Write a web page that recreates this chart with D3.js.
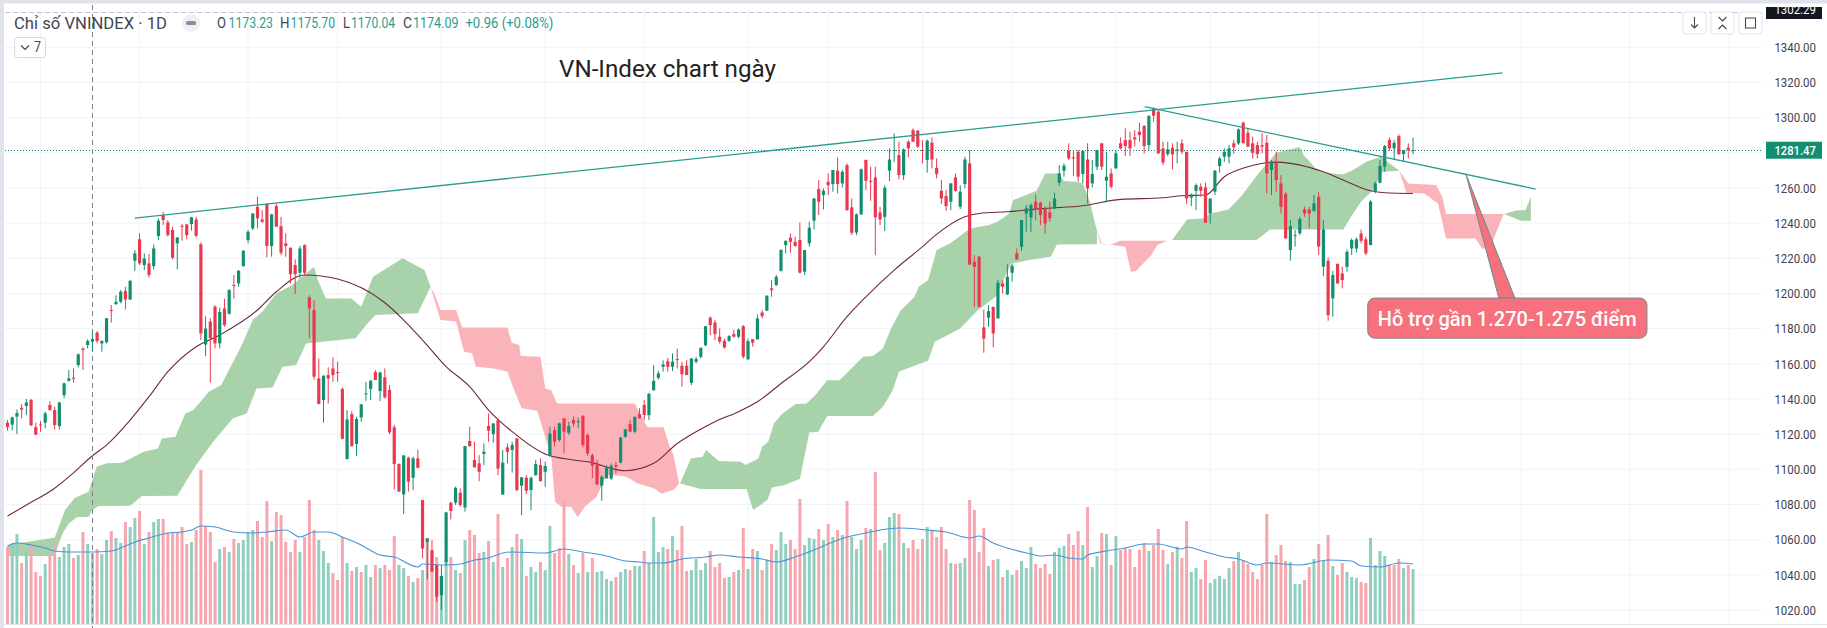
<!DOCTYPE html>
<html><head><meta charset="utf-8">
<script src="https://cdnjs.cloudflare.com/ajax/libs/d3/7.8.5/d3.min.js"></script>
<style>html,body{margin:0;padding:0;background:#fff;overflow:hidden}text{font-family:Roboto,Arial,sans-serif}</style>
</head><body><svg id="c" width="1827" height="628"></svg>
<script>
const openP=[
1126.5,1125.4,1130,1135,1136,1139.5,1124,1125.5,1126.5,1136.6,
1133.7,1124.6,1142.2,1150.4,1152.1,1159.3,1168.6,1170.7,1172.6,1177.7,
1171.6,1172.2,1190.6,1194,1195.3,1201.4,1196.6,1218.6,1230.8,1216.2,
1217.1,1215.6,1232.7,1244.6,1240.4,1236.1,1228.5,1238.5,1239.3,1239.5,
1242.1,1228,1171,1184,1192.5,1171.6,1191.5,1188.5,1204.8,1205.7,
1215.6,1230.4,1237,1249.3,1242.1,1250.8,1227,1249.7,1238.3,1228.5,
1226,1216.2,1211.8,1227.5,1197.8,1190.6,1151.7,1139.4,1153.6,1157.4,
1155.3,1145.7,1105.8,1131.4,1114.4,1129.5,1142.6,1145.7,1155.3,1144.5,
1152.3,1145.1,1123.9,1103,1085.7,1106.6,1095.2,1106.2,1082.5,1058.8,
1054,1045.5,1028.5,1047.4,1081,1081,1086.7,1078.3,1116.1,1105.3,
1103.4,1108.7,1124.6,1120,1128,1085.7,1112.5,1111,1117.6,1090.7,
1095.2,1088.2,1096.7,1102.4,1098.6,1107.7,1122.3,1116.6,1129,1120.8,
1128,1126.9,1130.3,1119.5,1108.1,1103.4,1090.7,1094.8,1094.8,1102.4,
1103.8,1118.5,1125.7,1121.4,1131.4,1136.6,1130.8,1145,1152,1158.3,
1161.5,1158.3,1162.7,1158.9,1158.9,1149.2,1161.2,1164,1170.6,1186.2,
1183.5,1175.4,1173.1,1173.1,1176.9,1175.4,1181.4,1162.5,1174,1173.9,
1189.2,1190.2,1202.9,1204.8,1212.9,1227.5,1231.7,1229.4,1230.4,1212.4,
1228.5,1241.4,1259.4,1256,1263.5,1262.2,1269.8,1262.6,1273,1249,
1234.7,1245,1275.9,1264.1,1266,1246.1,1243.6,1269.8,1281,1278.7,
1267.3,1286.3,1292.9,1292.6,1281.6,1275.9,1285.7,1271.5,1258.4,1255.4,
1252.2,1266,1249.3,1262.2,1274,1218,1220.9,1180.7,1186.2,1192.4,
1185.8,1205.7,1199.5,1211.8,1222.8,1226.6,1245.5,1243.3,1252.2,1251.6,
1248.4,1246.1,1248.4,1263,1269.8,1281.2,1277.4,1280.6,1267.9,1276.2,
1262.6,1272.1,1285.4,1264.1,1268.3,1271.1,1285.4,1287.2,1287.2,1288.8,
1292,1295.2,1284.4,1305.3,1303.4,1282.5,1279.3,1282.9,1281.2,1285.4,
1280.6,1254.6,1258.4,1260.7,1260.3,1245.5,1257.9,1272.5,1277.8,1277.8,
1285.4,1285.4,1297.1,1291.4,1285.4,1284.4,1284.4,1285.7,1270.2,1274.4,
1262.6,1256.6,1224.7,1232.7,1234.2,1247.8,1247.8,1247,1255,1215.2,
1218.6,1197.2,1216.8,1211.4,1215.2,1225.6,1225.6,1234.2,1230.8,1227.5,
1257.9,1263,1272.1,1287.3,1282.5,1289.5,1279.3,1282.9,1281];
const highP=[
1128,1130,1134,1137,1140,1140,1126.5,1127.5,1132.8,1138.8,
1135.6,1138.4,1149.3,1156.5,1157.4,1165.9,1169.4,1173.9,1178.3,1178.7,
1173.5,1186,1193.4,1199,1201.9,1203.8,1207.6,1224.7,1234.2,1222.8,
1222.4,1227.9,1242.7,1246.5,1241.8,1238,1231.9,1239.5,1239.3,1243.6,
1243.6,1229,1187,1186,1193.4,1192,1197,1202.5,1210.5,1213.3,
1224.7,1236.1,1245.5,1255,1247.4,1251.2,1245.2,1251.2,1243.6,1234.2,
1226.2,1219.4,1227,1227.9,1199,1196.2,1163,1153.6,1158,1163.7,
1161.2,1146.6,1133.7,1133.1,1129.9,1137.1,1149.8,1150.8,1156.5,1155.5,
1157.4,1147.9,1125.2,1103.4,1108.1,1107.2,1107.2,1111.3,1082.5,1060.7,
1059.8,1045.5,1045.5,1075.9,1081.6,1090.1,1089.2,1113.2,1124.2,1115.7,
1108.1,1114.8,1131.8,1126.1,1129,1111,1114.8,1115.7,1117.6,1095.8,
1096.7,1095.8,1105.3,1106.2,1104.3,1124.2,1124.2,1126.5,1129,1127.1,
1130,1129.5,1130.9,1120.4,1109,1105.3,1096.7,1102.4,1103.4,1104.3,
1118.5,1123,1128,1129.9,1134.7,1139.4,1143.5,1159.3,1156,1162,
1163.4,1165.9,1168.7,1161.2,1162.1,1163.4,1164,1169.3,1181.4,1187.1,
1184.9,1180.1,1174.4,1176.3,1179.5,1180.1,1182,1174.4,1174.1,1188,
1190.5,1199,1207.6,1210.5,1225.2,1230.4,1234.2,1232.3,1240.4,1224.7,
1240.8,1254.4,1264.5,1259.8,1268.3,1270.2,1277.4,1270.2,1274,1254,
1245.5,1271.1,1276.2,1272.1,1272.1,1249.3,1261.6,1282.5,1291,1286.3,
1282.5,1287.2,1293.9,1292.9,1287.2,1287.6,1288.8,1276.8,1264.5,1258.8,
1262.6,1268.3,1261.6,1277.8,1281.6,1221.8,1221.3,1190.9,1193.4,1192.4,
1207.6,1207.6,1216.5,1217,1225.6,1241.7,1250.3,1251.2,1256.3,1252.2,
1249.3,1252.2,1257.3,1273,1274,1285.4,1281.6,1281.6,1281.6,1285.4,
1275.9,1281.6,1285.4,1280.6,1271.1,1281.6,1288.8,1293.9,1292,1292.9,
1297.1,1295.8,1301.5,1305.8,1304.3,1286.3,1286.3,1285.4,1286.3,1287.6,
1280.6,1256.9,1262.6,1262.6,1263,1254,1270.2,1277.8,1282.5,1284.4,
1287.2,1293.9,1297.7,1293.9,1289.2,1286.3,1291,1290.1,1275.9,1280.6,
1267.4,1257.9,1241.7,1236.1,1243.6,1249.3,1249.3,1256,1257.9,1241.7,
1220.5,1212.9,1217.1,1215.2,1225,1231.3,1231.9,1236.4,1232.3,1253.1,
1263.6,1275.9,1284.4,1288.8,1287.3,1290.5,1281.6,1285.4,1288.6];
const lowP=[
1122,1122,1120,1129,1131,1124.6,1119.5,1121.4,1123.3,1133.3,
1122.7,1122.7,1140.4,1149.8,1149.3,1158,1156.5,1168.8,1166.9,1171.6,
1166.9,1171.6,1183.4,1193.4,1194.4,1190.9,1196.2,1212.9,1216.2,1213.3,
1209.1,1213.7,1230.4,1238.9,1232.3,1219.4,1213.7,1230,1230.8,1235.7,
1231.9,1173.5,1164.4,1149.3,1168.8,1168.8,1181,1188,1197.2,1203.8,
1215.2,1228.5,1236.1,1237,1240.2,1220.5,1220.9,1238,1221.8,1220.9,
1205.7,1199.7,1208.6,1210.5,1174.5,1151,1137.1,1126.5,1137.5,1149.8,
1149.8,1117,1105.8,1112.9,1107.7,1127.1,1139,1139.4,1150.8,1138.8,
1140.3,1120,1088.6,1087.3,1074.6,1087.3,1088.2,1100.5,1049.3,1037.4,
1041.8,1024.7,1020,1045.5,1071.5,1079.7,1078.7,1075.9,1112.9,1101.1,
1093.3,1102.4,1115.7,1115.1,1096.7,1085.4,1103.4,1098.1,1087.6,1074,
1085.9,1076.8,1096.3,1093,1090.1,1107.2,1112.9,1115.7,1109.1,1119.5,
1124,1123.3,1112.5,1107.6,1094.9,1091,1082.1,1094.8,1093.9,1097.7,
1103.4,1118,1121,1120.4,1128.9,1128,1128,1144.7,1151,1155.5,
1155.5,1156,1157.4,1147,1153.6,1147.9,1160.2,1163,1170,1176.3,
1173.5,1171.6,1168.7,1172.5,1175,1174.4,1163,1162.5,1169.7,1173.9,
1185.8,1190.2,1198.1,1204.2,1212.4,1222.8,1223.2,1226.6,1211.4,1210.5,
1226.6,1236.4,1244.6,1247.8,1256,1257.9,1256.9,1260.3,1246.9,1233.2,
1233.2,1244.6,1258.8,1252.7,1221.8,1238.9,1235.5,1263.9,1274.9,1264.9,
1264.5,1277.4,1286.3,1282.9,1274,1268.7,1271.1,1265.4,1250.8,1247,
1247.4,1257.9,1248,1259.8,1216.1,1192.1,1192.1,1166.3,1181,1169.3,
1185.8,1200,1199.1,1206.7,1219,1224.3,1235.1,1235.1,1241.7,1238.9,
1233.8,1240.8,1248,1261.1,1266.4,1275.9,1266.8,1263.5,1262.6,1251.2,
1260.3,1270.2,1270.2,1252.2,1259.8,1271.1,1281.9,1278.1,1278.1,1283.5,
1286.3,1279.7,1281.6,1297.7,1279.3,1273,1278.1,1270.6,1274,1279.3,
1250.8,1249.7,1247.4,1255,1240.2,1239.8,1256,1268.7,1274.9,1274,
1279.5,1284.4,1285.4,1283.5,1276.8,1276.8,1279.7,1256.9,1256,1257.9,
1245.6,1231.3,1218.6,1226.6,1233.2,1243.6,1237,1246.5,1221.9,1209.9,
1184.5,1186.8,1205.7,1202.9,1212.4,1221.9,1223.2,1228.5,1221.8,1227.5,
1257,1262.6,1269.2,1281.2,1275.9,1278.7,1274.9,1276.8,1279.1];
const closeP=[
1124,1129.5,1132,1134,1138,1125,1119.7,1125,1131.8,1133.7,
1125.2,1138,1148.9,1151.7,1151.5,1165.4,1167.9,1173,1174.1,1173,
1173,1185.9,1190,1195.3,1201,1196.6,1207.2,1222.8,1217.1,1219.9,
1210.5,1225.6,1241.4,1241.8,1233.2,1220.3,1231.9,1238,1233.2,1243.3,
1232.8,1177.3,1180,1174.5,1171.6,1189.5,1182,1201.9,1204.2,1212.9,
1224.3,1235.1,1245.5,1242.7,1240.8,1227,1245,1238,1223.2,1227,
1211,1211,1225.6,1211.8,1191.5,1152.7,1137.1,1153.2,1151.7,1153.6,
1155,1117.4,1128.4,1113.2,1128.6,1136.9,1143.2,1150.4,1150.8,1155.1,
1140.9,1121,1103,1087.3,1107.9,1093,1106.2,1100.9,1055,1060.7,
1041.8,1027.5,1039.3,1075.5,1076.3,1089.5,1079.7,1113.2,1113.2,1101.1,
1098.6,1110,1122,1126.1,1100.5,1103.8,1110,1113.8,1088.2,1095.4,
1087.8,1095.2,1103,1093.3,1101.9,1120.4,1115.7,1126.1,1121.4,1124.6,
1126,1127.4,1113.8,1109,1102,1091.4,1095.8,1101.1,1102,1101.5,
1118,1122.7,1121.4,1129.9,1129,1130.9,1143,1150.3,1154.5,1159.6,
1158.3,1161.2,1162.1,1154.1,1153.6,1163,1162.7,1169.1,1181.4,1182,
1176.9,1172.7,1169.3,1175.8,1175.4,1179.5,1164,1172.9,1172,1185.8,
1187.1,1198.7,1201.9,1209.5,1224.7,1229.8,1229.4,1227,1211.8,1224.7,
1237.4,1254,1252.2,1258.4,1261.6,1270.2,1262.2,1269.2,1247.4,1234.5,
1245,1270.6,1264.1,1263.5,1243.3,1242.1,1260.1,1276.2,1281.6,1267.3,
1281.9,1282.5,1286.3,1283.5,1281.2,1286.9,1276.2,1267.9,1254,1249.7,
1262.6,1258.4,1257.9,1276.2,1216.5,1215.2,1192.4,1174.4,1190,1177.3,
1206.1,1203.8,1209.5,1215.8,1219.4,1241.7,1248.4,1250.3,1247.8,1244.6,
1239.8,1242.7,1254,1268.3,1272.6,1276.8,1276.8,1266.4,1281,1259.8,
1267.9,1281.6,1272.1,1266.4,1260.7,1279.7,1282.5,1283.8,1282.5,1287.6,
1290.1,1283.8,1300.9,1301.1,1279.7,1274.4,1281.9,1279.1,1281.9,1280.6,
1254,1256.3,1261.6,1258.4,1240.2,1254,1269.8,1276.8,1280.6,1282.5,
1283.1,1293.3,1285.4,1283.5,1280,1279.3,1283.5,1268.3,1274.4,1264.5,
1249.3,1231.3,1238.3,1233.2,1242.3,1245.5,1245.5,1251.2,1226.6,1236.4,
1187.7,1210.5,1205.7,1207.6,1223.7,1230.4,1230.8,1230,1222.8,1252.2,
1262.6,1272.5,1283.8,1282.5,1285.7,1279.3,1281.6,1281.6,1281.47];
const volumes=[
77,81,90,61,73,77,52,48,60,69,82,67,77,80,66,69,92,80,71,75,
70,84,93,86,81,102,97,106,113,80,92,102,105,105,91,92,92,97,80,82,
94,154,98,92,62,75,77,72,85,81,84,92,94,103,87,123,83,112,109,82,
72,84,72,87,124,94,84,73,61,51,44,87,61,53,57,52,59,47,59,56,
59,54,88,59,56,48,42,46,54,86,56,67,48,64,67,54,51,84,94,89,
71,72,83,62,110,57,66,77,90,85,48,57,52,62,54,98,71,76,122,70,
59,51,71,52,66,52,53,45,
43,47,52,55,54,58,58,73,61,107,72,77,75,88,74,98,53,54,65,54,
61,73,57,61,46,47,52,54,96,55,75,73,54,64,80,74,92,80,84,75,
125,79,86,85,95,84,100,87,94,89,123,87,75,84,96,95,152,74,81,107,
111,110,81,76,84,75,85,97,93,87,97,75,61,60,61,66,124,114,72,96,
58,64,65,47,54,49,54,63,56,77,60,56,60,50,72,76,78,90,79,93,
79,117,57,68,91,90,59,88,74,76,75,57,74,81,73,79,95,74,60,72,
77,66,103,52,56,45,64,41,45,48,45,56,
63,72,64,60,52,45,59,110,62,69,79,63,62,40,40,44,57,65,80,64,
89,58,49,61,52,47,46,42,41,86,59,73,68,59,59,65,56,59,55];
const volumeDirs=("rggrgrrrgr"+"rgggrgrggr"+"ggrggrggrg"+"rggrrrrrrg"+"rrrrrgrgrg"+"gggrrrgrrr"+"rrgrrrgggr"+"rrgrgrggrg"+"rrrggrgrgr"+"rrggrgrgrr"+"rgrgrgrgrg"+"rggrggrrrg"+"rgrgrggg"
+"grggrggrgg"+"ggrgrrrggg"+"grrrrgrgrg"+"rgrgrgggrr"+"rgggrgrgrg"+"rgggrgrrgg"+"grgrrrrgrr"+"rrgrggrrrr"+"grgrggrggg"+"rrrrgggrrr"+"grggrgrgrr"+"rrrrgrrrgr"+"grrggrrggg"+"gg"
+"rgrrrrrrgr"+"rrgggrrgrg"+"rgrrgggrrg"+"gggrrrgrg"
).split("");
const volumeMaIdx=[0,2,5,8,10,13,18,22,24,27,30,34,37,39,41,44,48,52,55,59,62,65,68,71,75,79,82,87,88,93,96,99,102,105,107,114,118,122,127,131,134,136,139,143,148,151,155,160,163,167,171,175,178,182,184,189,195,199,204,206,209,217,219,222,225,228,229,233,237,241,244,249,250,254,258,261,265,267,274,280,285,287,291,295,298];
const volumeMaVal=[78,81,79,76,73,72,72,73,76,82,86,91,92,94,98,97,92,91,92,94,87,92,92,87,79,69,67,57,60,59,60,64,66,71,72,71,75,72,68,63,62,61,61,65,67,69,67,65,62,67,74,82,87,91,93,96,94,92,86,88,81,70,68,69,66,65,69,73,76,80,80,75,77,72,67,65,59,61,59,64,63,58,57,61,60];
const priceMaIdx=[0,4,10,14,18,21,26,30,34,40,45,53,57,63,70,80,84,88,93,98,102,107,114,120,124,128,131,137,142,146,150,155,159,164,170,173,178,182,188,194,197,203,206,212,220,228,236,245,249,254,258,263,269,272,279,284,289,292,298];
const priceMaVal=[1073.4,1079.7,1089.2,1098,1107.7,1113.8,1128,1141.3,1155.5,1169.7,1176.4,1190.6,1201,1210.5,1208.2,1194.7,1184.9,1173.5,1158.4,1147,1133.7,1121.4,1108.7,1105.3,1103.8,1100.5,1099.2,1103.4,1114.7,1121.4,1127.1,1132.8,1138.4,1148.8,1161.2,1169.7,1186.8,1198.1,1213.3,1226.6,1233.6,1243.6,1245.5,1246.5,1248.4,1249.9,1253.5,1254.4,1255.6,1256,1266.4,1272.1,1274.7,1274,1269.2,1263.6,1258.4,1257.3,1256.9];
const cloudGreenA=[[0,1056.9],[3.4,1058.4],[6.7,1059.8],[10,1061.1],[12.2,1076.8],[14.2,1083.5],[17.2,1087.3],[18.9,1101.5],[21,1103.4],[24.3,1103.8],[28.9,1110],[31.9,1111.9],[32.7,1117.6],[35.6,1118.5],[37.7,1131.8],[39.4,1133.7],[42.7,1144.1],[45.3,1147.9],[49.5,1169.7],[52,1184.9],[54,1189.6],[57,1200],[60.4,1204.8],[65,1215.2],[65.8,1207.6],[67.5,1197.2],[72.9,1197.2],[75,1192.5],[77.5,1209.5],[83.8,1220],[88.4,1213.3],[89.7,1203.8],
[87,1188.7],[78,1187.8],[76.3,1183],[73.8,1174.5],[63.3,1171.6],[61.2,1159.3],[58.3,1158.4],[56.2,1146.6],[52.8,1146],[50.7,1131.8],[47.8,1129],[43.6,1115.7],[40,1102.4],[36,1085],[28.5,1084.8],[26,1079.3],[19.3,1079.1],[18,1076.8],[17.2,1073],[14.7,1072.7],[13,1069.2],[11.7,1063.6],[10.9,1057.9],[10,1050.7],[0,1050.7]];
const cloudRedA=[[88.8,1207.6],[90.5,1200],[91.8,1190.6],[95.1,1190.6],[96.4,1180.7],[106,1180.7],[106.9,1172],[108.5,1170.7],[108.8,1164.4],[113,1164],[114,1146],[115.3,1145],[116.5,1137.5],[133,1137.5],[135.7,1123.9],[139.1,1123.9],[140.4,1112.9],[141.2,1108.1],[142.4,1092],
[141.2,1088.2],[138.7,1086.3],[137,1089.2],[133.6,1092],[131.5,1095.4],[130,1096.4],[127,1096.7],[124.9,1084.4],[122.4,1078.7],[120.9,1072.7],[119.5,1078.7],[117.4,1078.7],[116.1,1081.6],[115.3,1107.2],[112.3,1133.3],[109,1134.7],[107.3,1146],[106,1155.5],[103.1,1157.4],[99.3,1158.4],[98.5,1166],[96.8,1166.9],[95.1,1184],[91.8,1184.9],[89.7,1203.8]];
const cloudGreenB=[[142.6,1092],[144.9,1106.2],[147.4,1107.2],[148.1,1111],[150.8,1104.7],[155.4,1104.3],[156.5,1102.4],[159.2,1106.2],[160,1112.9],[161.3,1115.7],[162.5,1126.1],[164.2,1131.4],[167.1,1137.1],[169.4,1137.5],[171.3,1142.2],[173.8,1150.7],[176.4,1150.7],[181.4,1164],[183.5,1164.4],[185.6,1168.7],[187.3,1180],[189.4,1190.5],[192.3,1198],[193.2,1203.8],[195.2,1207.6],[197,1224.7],[199.9,1228.5],[203.6,1236],[204.9,1237.4],[208.2,1239],[209.9,1240.8],[212.4,1245.5],[213.2,1253.1],[218.2,1258.4],[220,1268.3],[222.9,1268.3],[224,1264],[226.6,1263.5],[228,1262.6],[229.6,1251.2],[230.6,1239.5],[231,1236],
[231,1228],[222.5,1227.9],[221.2,1220.9],[216.6,1219],[212.8,1217],[209.5,1198.1],[205.7,1190.5],[201.9,1180],[196.6,1172.5],[195.2,1161.7],[192.7,1159.3],[189,1155.5],[187.7,1145],[185.6,1135.6],[183.5,1130.3],[173.8,1130.3],[171.9,1121.4],[170,1121],[168,1094.5],[164.6,1091],[162.1,1089.7],[161.1,1082.5],[158.1,1076.8],[156.7,1088.8],[147,1088.8]];
const cloudRedB=[[231,1236],[232.1,1228],[234.2,1228],[235.9,1230],[245.9,1230],[243.8,1227.5],[242.5,1221.8],[239.2,1212.7],[238.2,1212.3],[237,1226.6],[231.7,1228.5]];
const cloudGreenC=[[246.9,1230.4],[250.1,1242.1],[253.4,1242.7],[255.1,1245.5],[258.9,1247.8],[261.8,1256],[265.2,1268.3],[269,1280],[274,1283.3],[274.8,1278.7],[277.4,1271.1],[279.4,1268.7],[283.2,1267.7],[285.3,1270.2],[288.2,1275],[291.2,1277.8],[295.1,1269.8],
[291.6,1269.2],[289.5,1258.8],[287,1252.2],[285.3,1245.5],[283.2,1236.4],[267.7,1236.4],[264.8,1230.4]];
const cloudRedC=[[295.1,1269.8],[297,1262.6],[302.9,1261.7],[304.2,1255],[305,1245.2],[317.2,1245.2],[314.3,1225.6],[312.6,1225.6],[311.3,1231.3],[305,1231.3],[303.3,1251.2],[300.4,1256.9],[296.6,1257.3]];
const cloudGreenD=[[317.3,1245.2],[320.1,1247.4],[321.8,1247.4],[323,1255],[323,1241.4],[320.9,1241.4]];
const trendLineA=[[27,1242.9],[317,1325.4]];
const trendLineB=[[241.1,1306.2],[324,1259.4]];
const calloutTail=[[309.2,1268],[316.2,1197.4],[319.6,1197.4]];
const calloutBox=[[288.4,1197.4],[347.6,1174.6]];
const calloutLabel="Hỗ trợ gần 1.270-1.275 điểm";
const priceTicks=[1020,1040,1060,1080,1100,1120,1140,1160,1180,1200,1220,1240,1260,1300,1320,1340];
const gridBars=[7,28,51,70,92,114,135,157,174,194,213,235,255,278,300,321,344,365];
const gridPrices=[1020,1040,1060,1080,1100,1120,1140,1160,1180,1200,1220,1240,1260,1280,1300,1320,1340];
const lastPrice=1281.47, crossBar=18, topPrice="1302.29";

const svg=d3.select("#c");
const x=d3.scaleLinear().domain([0,298]).range([7.5,1413]);
const y=d3.scaleLinear().domain([1020,1340]).range([610,47.3]);
const yv=d3.scaleLinear().domain([0,160]).range([624,464]);
const PAL={up:"#128f71",dn:"#e9384f",vu:"#90cfc0",vd:"#f6a6ae",cg:"#a8d2aa",cr:"#fbb3ba",ma:"#6e2a39",vma:"#4a94d8",tl:"#2a9d8f",grid:"#f0f3fa"};
const right=1762;

svg.append("rect").attr("width",1827).attr("height",628).attr("fill","#fff");
svg.append("g").selectAll("line").data(gridPrices).join("line").attr("x1",5).attr("x2",right).attr("y1",d=>y(d)).attr("y2",d=>y(d)).attr("stroke",PAL.grid);
svg.append("g").selectAll("line").data(gridBars).join("line").attr("x1",d=>x(d)).attr("x2",d=>x(d)).attr("y1",13).attr("y2",624).attr("stroke",PAL.grid);
const area=d3.line().x(d=>x(d[0])).y(d=>y(d[1]));
[[cloudGreenA,PAL.cg],[cloudRedA,PAL.cr],[cloudGreenB,PAL.cg],[cloudRedB,PAL.cr],[cloudGreenC,PAL.cg],[cloudRedC,PAL.cr],[cloudGreenD,PAL.cg]].forEach(([p,c])=>{
  svg.append("path").attr("d",area(p)+"Z").attr("fill",c);
});
svg.append("g").selectAll("rect").data(volumes).join("rect")
 .attr("x",(d,i)=>x(i)-1.5).attr("width",3).attr("y",d=>yv(d)).attr("height",d=>yv(0)-yv(d))
 .attr("fill",(d,i)=>volumeDirs[i]==="g"?PAL.vu:PAL.vd);
svg.append("path").attr("fill","none").attr("stroke",PAL.vma).attr("stroke-width",1.1)
 .attr("d",d3.line().x(d=>x(d[0])).y(d=>yv(d[1])).curve(d3.curveMonotoneX)(volumeMaIdx.map((v,i)=>[v,volumeMaVal[i]])));
svg.append("path").attr("fill","none").attr("stroke",PAL.ma).attr("stroke-width",1.1)
 .attr("d",d3.line().x(d=>x(d[0])).y(d=>y(d[1])).curve(d3.curveMonotoneX)(priceMaIdx.map((v,i)=>[v,priceMaVal[i]])));
svg.append("line").attr("x1",5).attr("x2",right).attr("y1",y(lastPrice)).attr("y2",y(lastPrice)).attr("stroke","#1d7d6c").attr("stroke-dasharray","1 2").attr("shape-rendering","crispEdges");
svg.append("line").attr("x1",x(crossBar)).attr("x2",x(crossBar)).attr("y1",5).attr("y2",628).attr("stroke","#7d808a").attr("stroke-dasharray","5 4").attr("shape-rendering","crispEdges");
const g=svg.append("g");
g.selectAll("line").data(closeP).join("line").attr("x1",(d,i)=>x(i)).attr("x2",(d,i)=>x(i))
 .attr("y1",(d,i)=>y(highP[i])).attr("y2",(d,i)=>y(lowP[i]))
 .attr("stroke",(d,i)=>d>=openP[i]?PAL.up:PAL.dn).attr("stroke-width",1);
g.selectAll("rect").data(closeP).join("rect").attr("x",(d,i)=>x(i)-1.6).attr("width",3.2)
 .attr("y",(d,i)=>y(Math.max(d,openP[i])))
 .attr("height",(d,i)=>Math.max(1,Math.abs(y(d)-y(openP[i]))))
 .attr("fill",(d,i)=>d>=openP[i]?PAL.up:PAL.dn);
[trendLineA,trendLineB].forEach(t=>svg.append("path").attr("d",area(t)).attr("stroke",PAL.tl).attr("stroke-width",1.3).attr("fill","none"));
svg.append("path").attr("d",area(calloutTail)+"Z").attr("fill","#f6707d").attr("stroke","#5f8f8c").attr("stroke-width",1);
svg.append("rect").attr("x",x(calloutBox[0][0])).attr("y",y(calloutBox[0][1])).attr("width",x(calloutBox[1][0])-x(calloutBox[0][0])).attr("height",y(calloutBox[1][1])-y(calloutBox[0][1])).attr("rx",7)
 .attr("fill","#f6707d").attr("stroke","#75898c").attr("stroke-width",1);
function T(s,px,py,size,len,fill,weight,anchor){
  const t=svg.append("text").text(s).attr("x",px).attr("y",py).attr("font-size",size).attr("fill",fill||"#434651");
  if(len)t.attr("textLength",len).attr("lengthAdjust","spacingAndGlyphs");
  if(weight)t.attr("font-weight",weight); if(anchor)t.attr("text-anchor",anchor); return t;
}
T(calloutLabel,x(288.4)+10,y(1185.5)+7.5,20,259,"#fff",500);
const ax=svg.append("g").attr("transform",`translate(${right},0)`).call(d3.axisRight(y).tickValues(priceTicks).tickFormat(d3.format(".2f")).tickSize(0).tickPadding(12.4));
ax.select(".domain").remove();
ax.selectAll("text").attr("font-size",13.5).attr("fill","#3e414b").attr("font-family","Roboto").attr("textLength",41.5).attr("lengthAdjust","spacingAndGlyphs");
svg.append("rect").attr("x",1766).attr("y",y(lastPrice)-8.5).attr("width",56).attr("height",17).attr("fill","#128f71");
T(lastPrice.toFixed(2),1774.4,y(lastPrice)+5,13.5,41.5,"#fff",500);
const defs=svg.append("defs");defs.append("clipPath").attr("id","tc").append("rect").attr("x",1766).attr("y",7).attr("width",56).attr("height",12);
svg.append("rect").attr("x",1766).attr("y",7).attr("width",56).attr("height",12).attr("fill","#131722");
T(topPrice,1774.4,13.6,13.5,41.5,"#fff").attr("clip-path","url(#tc)");
svg.append("rect").attr("width",1827).attr("height",3.5).attr("fill","#e0e3eb");
svg.append("rect").attr("width",4).attr("height",628).attr("fill","#e0e3eb");
svg.append("line").attr("x1",5).attr("x2",1762).attr("y1",12.5).attr("y2",12.5).attr("stroke","#c4c7cf").attr("stroke-dasharray","5 3");
svg.append("line").attr("x1",4).attr("x2",1827).attr("y1",624.5).attr("y2",624.5).attr("stroke","#e0e3eb");
T("Chỉ số VNINDEX · 1D",14,28.5,16,153,"#434651");
svg.append("circle").attr("cx",191).attr("cy",23).attr("r",9).attr("fill","#eef0f4");
svg.append("rect").attr("x",186).attr("y",21).attr("width",10).attr("height",4).attr("rx",1.5).attr("fill","#8b8e98");
const G="#2a9d8f",K="#434651";
[["O",217,9,K],["1173.23",228.5,44.5,G],["H",280,9.5,K],["1175.70",290.6,44.5,G],["L",343,7,K],["1170.04",351,44,G],["C",403,9,K],["1174.09",413,45.5,G],["+0.96 (+0.08%)",465.4,88,G]]
 .forEach(a=>T(a[0],a[1],28,14,a[2],a[3]));
svg.append("rect").attr("x",14.6).attr("y",37.5).attr("width",31).attr("height",20).attr("rx",3).attr("fill","#fff").attr("stroke","#d5d8df");
svg.append("path").attr("d","M21 45.5l4 4l4-4").attr("fill","none").attr("stroke","#434651").attr("stroke-width",1.2);
T("7",34,52,14,7,"#434651");
T("VN-Index chart ngày",559,77,23,217,"#222");
[1683,1711,1739].forEach((bx,k)=>{
  svg.append("rect").attr("x",bx).attr("y",12).attr("width",23).attr("height",22).attr("rx",3).attr("fill","#fff").attr("stroke","#e0e3eb");
  const cx=bx+11.5;
  const d=k===0?`M${cx} 17V28M${cx-3.5} 24.5L${cx} 28L${cx+3.5} 24.5`:k===1?`M${cx-4} 17L${cx} 21L${cx+4} 17M${cx-4} 29L${cx} 25L${cx+4} 29`:`M${cx-5} 20V18H${cx+5}V20M${cx+5} 26V28H${cx-5}V26M${cx-5} 20V26M${cx+5} 20V26`;
  svg.append("path").attr("d",d).attr("fill","none").attr("stroke","#434651").attr("stroke-width",1.1);
});
</script></body></html>
